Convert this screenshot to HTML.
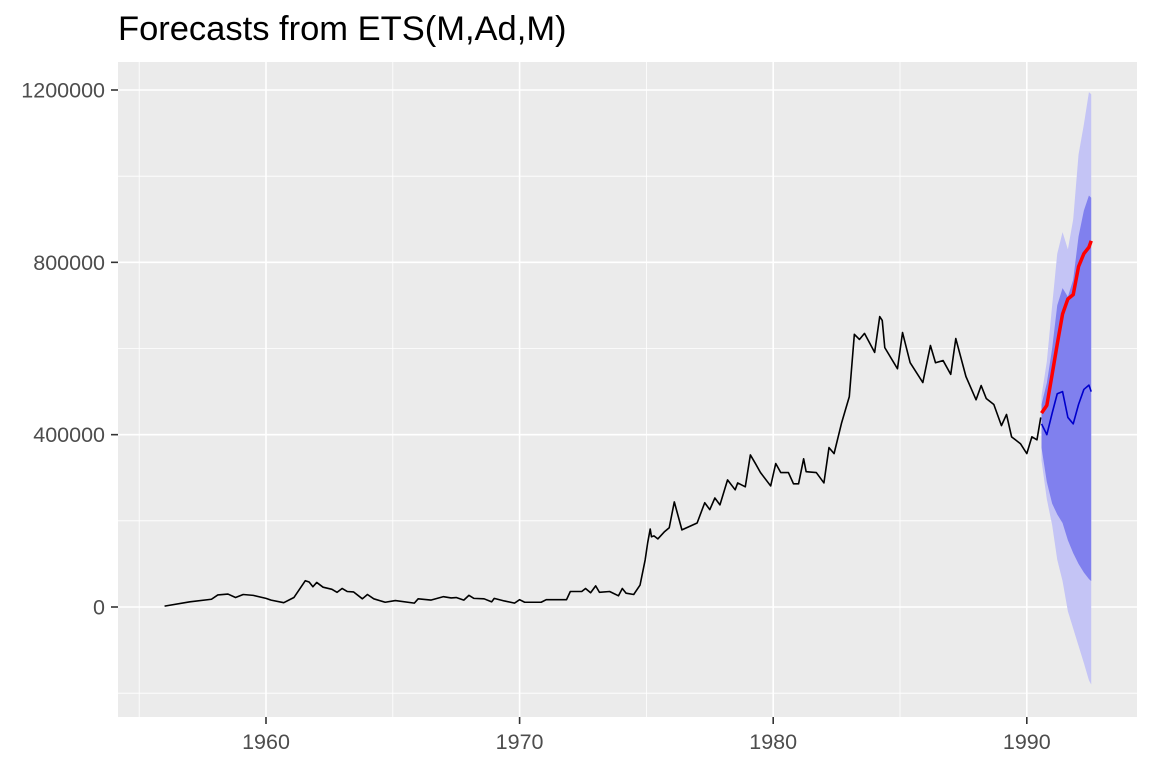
<!DOCTYPE html>
<html><head><meta charset="utf-8"><style>
body{margin:0;background:#fff;}
svg text{font-family:"Liberation Sans",Arial,sans-serif;}
</style></head><body>
<svg id="chart" width="1152" height="768" xmlns="http://www.w3.org/2000/svg">
<text x="118" y="40" font-size="34.5" fill="#000">Forecasts from ETS(M,Ad,M)</text>
<rect x="118" y="62" width="1019" height="655" fill="#ebebeb"/>
<g id="grid"></g><g id="bands"></g><g id="lines"></g><g id="axes"></g>
</svg>
<script>
const histYears=[1956.0,1957.0,1957.85,1958.1,1958.5,1958.8,1959.1,1959.5,1960.0,1960.2,1960.7,1961.1,1961.55,1961.7,1961.85,1962.0,1962.25,1962.6,1962.8,1963.0,1963.2,1963.45,1963.8,1964.0,1964.25,1964.7,1965.1,1965.85,1966.0,1966.5,1967.0,1967.3,1967.5,1967.8,1968.0,1968.2,1968.6,1968.9,1969.0,1969.4,1969.8,1970.0,1970.2,1970.85,1971.05,1971.85,1972.0,1972.45,1972.6,1972.8,1973.0,1973.15,1973.55,1973.9,1974.05,1974.2,1974.5,1974.75,1974.95,1975.05,1975.15,1975.2,1975.3,1975.45,1975.7,1975.9,1976.1,1976.4,1977.0,1977.3,1977.5,1977.7,1977.9,1978.2,1978.5,1978.6,1978.9,1979.1,1979.3,1979.5,1979.9,1980.1,1980.3,1980.6,1980.8,1981.0,1981.2,1981.3,1981.7,1982.0,1982.2,1982.4,1982.7,1983.0,1983.2,1983.4,1983.6,1984.0,1984.2,1984.3,1984.4,1984.9,1985.1,1985.4,1985.9,1986.2,1986.4,1986.7,1987.0,1987.2,1987.6,1988.0,1988.2,1988.4,1988.7,1989.0,1989.2,1989.4,1989.75,1990.0,1990.2,1990.4,1990.55];
const histValues=[2000,12000,18000,28000,30000,22000,29000,27000,20000,16000,10000,22000,61000,58000,47000,57000,46000,41000,34000,43000,36000,35000,19000,29000,19000,11000,15000,9000,19000,16000,24000,21000,22000,16000,27000,20000,19000,12000,20000,14000,9000,17000,11000,11000,17000,17000,36000,36000,43000,33000,49000,34000,36000,26000,43000,32000,29000,51000,109000,149000,181000,163000,165000,158000,174000,184000,244000,179000,195000,242000,226000,253000,237000,295000,272000,288000,279000,353000,333000,312000,281000,333000,312000,312000,286000,286000,344000,314000,312000,288000,370000,356000,428000,488000,633000,621000,635000,591000,674000,665000,602000,553000,637000,567000,521000,607000,567000,572000,540000,623000,535000,481000,514000,484000,470000,421000,447000,395000,379000,356000,395000,388000,440000];
const fcYears=[1990.58,1990.79,1991.0,1991.2,1991.41,1991.62,1991.83,1992.04,1992.25,1992.45,1992.54];
const fcMean=[425000,400000,450000,495000,500000,440000,425000,470000,505000,515000,500000];
const actualValues=[450000,468000,540000,610000,680000,715000,725000,790000,820000,835000,850000];
const upper80=[470000,520000,600000,700000,740000,720000,760000,860000,920000,955000,950000];
const lower80=[370000,290000,240000,215000,195000,155000,125000,100000,80000,65000,60000];
const upper95=[490000,570000,700000,820000,870000,830000,900000,1050000,1120000,1195000,1190000];
const lower95=[340000,250000,190000,110000,60000,-10000,-50000,-90000,-130000,-170000,-180000];
const xTicks=[1960,1970,1980,1990];
const xMinor=[1955,1965,1975,1985];
const yTicks=[0,400000,800000,1200000];
const yMinor=[-200000,200000,600000,1000000];
const yTickLabels=["0","400000","800000","1200000"];

const NS="http://www.w3.org/2000/svg";
const L=118,R=1137,T=62,B=717;
const xs=y=>266+(y-1960)*25.36;
const ys=v=>607-v*(517/1200000);
function mk(tag,attrs,parent){const e=document.createElementNS(NS,tag);for(const k in attrs)e.setAttribute(k,attrs[k]);parent.appendChild(e);return e;}
const grid=document.getElementById('grid'),bands=document.getElementById('bands'),lines=document.getElementById('lines'),axes=document.getElementById('axes');
yMinor.forEach(v=>{const e=mk('line',{x1:L,x2:R,y1:ys(v),y2:ys(v),stroke:'#fff','stroke-width':0.8},grid);

});
xMinor.forEach(v=>{const e=mk('line',{x1:xs(v),x2:xs(v),y1:T,y2:B,stroke:'#fff','stroke-width':0.8},grid);

});
yTicks.forEach((v,i)=>{const y=ys(v);
const g=mk('line',{x1:L,x2:R,y1:y,y2:y,stroke:'#fff','stroke-width':1.6},grid);


const t=mk('line',{x1:L-7,x2:L,y1:y,y2:y,stroke:'#333','stroke-width':1.6},axes);


const tx=mk('text',{x:L-13,y:y+7.5,'font-size':21.5,fill:'#4d4d4d','text-anchor':'end'},axes);
tx.textContent=yTickLabels[i];

});
xTicks.forEach(v=>{const x=xs(v);
const g=mk('line',{x1:x,x2:x,y1:T,y2:B,stroke:'#fff','stroke-width':1.6},grid);


const t=mk('line',{x1:x,x2:x,y1:B,y2:B+7,stroke:'#333','stroke-width':1.6},axes);


const tx=mk('text',{x:x,y:749,'font-size':21.5,fill:'#4d4d4d','text-anchor':'middle'},axes);
tx.textContent=String(v);

});
function band(up,lo,color,name){let p=fcYears.map((y,i)=>xs(y)+','+ys(up[i]));
for(let i=fcYears.length-1;i>=0;i--)p.push(xs(fcYears[i])+','+ys(lo[i]));
const e=mk('polygon',{points:p.join(' '),fill:color},bands);

}
band(upper95,lower95,'#c4c4f5','band-95');
band(upper80,lower80,'#8080ee','band-80');
function line(xv,yv,color,w,name){const e=mk('polyline',{points:xv.map((x,i)=>xs(x)+','+ys(yv[i])).join(' '),fill:'none',stroke:color,'stroke-width':w,'stroke-linejoin':'round'},lines);

}
line(histYears,histValues,'#000',1.6,'historical-series');
line(fcYears,fcMean,'#0000cc',1.6,'forecast-mean');
line(fcYears,actualValues,'#ff0000',3.5,'actual-series');
</script>
</body></html>
